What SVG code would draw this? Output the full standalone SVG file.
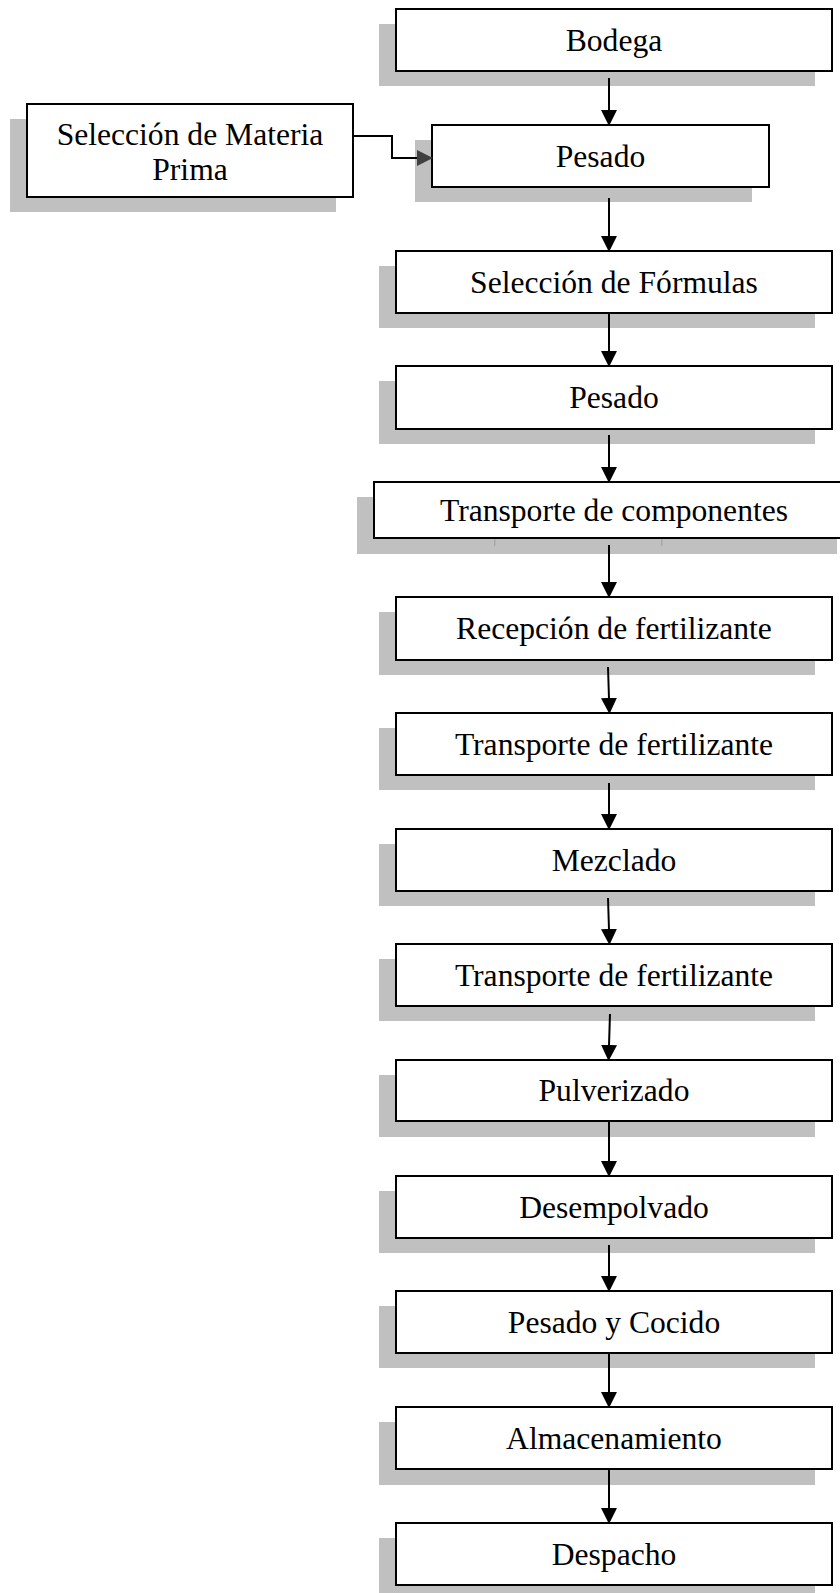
<svg xmlns="http://www.w3.org/2000/svg" width="840" height="1593" viewBox="0 0 840 1593">
<style>
.sh{fill:#c0c0c0}
.bx{fill:#ffffff;stroke:#000000;stroke-width:2}
.tx{font-family:"Liberation Serif","Times New Roman",serif;font-size:31.6px;text-anchor:middle;fill:#000000}
.ln{stroke:#000000;stroke-width:2;fill:none}
</style>
<defs>
<marker id="ah" markerUnits="userSpaceOnUse" markerWidth="16" markerHeight="16" viewBox="0 0 15 15" refX="1" refY="7.5" orient="auto">
<path d="M0,0 L15,7.5 L0,15 Z" fill="#000000"/>
</marker>
<marker id="ahg" markerUnits="userSpaceOnUse" markerWidth="16" markerHeight="16" viewBox="0 0 15 15" refX="1" refY="7.5" orient="auto">
<path d="M0,0 L15,7.5 L0,15 Z" fill="#404040"/>
</marker>
</defs>

<g id="n-bodega"><rect class="sh" x="379" y="24" width="436" height="62"/><rect class="bx" x="396" y="9" width="436" height="62"/><text class="tx" x="614" y="50.5">Bodega</text></g>
<g id="n-materia"><rect class="sh" x="10" y="119" width="326" height="93"/><rect class="bx" x="27" y="104" width="326" height="93"/><text class="tx" x="190" y="145">Selección de Materia</text><text class="tx" x="190" y="180">Prima</text></g>
<g id="n-pesado1"><rect class="sh" x="415" y="140" width="337" height="62"/><rect class="bx" x="432" y="125" width="337" height="62"/><text class="tx" x="600.5" y="166.5">Pesado</text></g>
<g id="n-formulas"><rect class="sh" x="379" y="266" width="436" height="62"/><rect class="bx" x="396" y="251" width="436" height="62"/><text class="tx" x="614" y="292.5">Selección de Fórmulas</text></g>
<g id="n-pesado2"><rect class="sh" x="379" y="381" width="436" height="63"/><rect class="bx" x="396" y="366" width="436" height="63"/><text class="tx" x="614" y="408">Pesado</text></g>
<g id="n-transcomp"><rect class="sh" x="357" y="497" width="480" height="57"/><rect x="494" y="538" width="1.5" height="8" fill="#a8a8a8"/><rect x="661" y="538" width="1.5" height="8" fill="#a8a8a8"/><rect class="bx" x="374" y="482" width="480" height="56"/><text class="tx" x="614" y="520.5">Transporte de componentes</text></g>
<g id="n-recepcion"><rect class="sh" x="379" y="612" width="436" height="63"/><rect class="bx" x="396" y="597" width="436" height="63"/><text class="tx" x="614" y="639">Recepción de fertilizante</text></g>
<g id="n-transfert1"><rect class="sh" x="379" y="728" width="436" height="62"/><rect class="bx" x="396" y="713" width="436" height="62"/><text class="tx" x="614" y="754.5">Transporte de fertilizante</text></g>
<g id="n-mezclado"><rect class="sh" x="379" y="844" width="436" height="62"/><rect class="bx" x="396" y="829" width="436" height="62"/><text class="tx" x="614" y="870.5">Mezclado</text></g>
<g id="n-transfert2"><rect class="sh" x="379" y="959" width="436" height="62"/><rect class="bx" x="396" y="944" width="436" height="62"/><text class="tx" x="614" y="985.5">Transporte de fertilizante</text></g>
<g id="n-pulverizado"><rect class="sh" x="379" y="1075" width="436" height="62"/><rect class="bx" x="396" y="1060" width="436" height="61"/><text class="tx" x="614" y="1101">Pulverizado</text></g>
<g id="n-desempolvado"><rect class="sh" x="379" y="1191" width="436" height="62"/><rect class="bx" x="396" y="1176" width="436" height="62"/><text class="tx" x="614" y="1217.5">Desempolvado</text></g>
<g id="n-pesadococido"><rect class="sh" x="379" y="1306" width="436" height="62"/><rect class="bx" x="396" y="1291" width="436" height="62"/><text class="tx" x="614" y="1332.5">Pesado y Cocido</text></g>
<g id="n-almacen"><rect class="sh" x="379" y="1422" width="436" height="63"/><rect class="bx" x="396" y="1407" width="436" height="62"/><text class="tx" x="614" y="1448.5">Almacenamiento</text></g>
<g id="n-despacho"><rect class="sh" x="379" y="1538" width="436" height="62"/><rect class="bx" x="396" y="1523" width="436" height="62"/><text class="tx" x="614" y="1564.5">Despacho</text></g>

<g id="connectors">
<polyline class="ln" points="353,136 392,136 392,158 418,158" marker-end="url(#ahg)"/>
<line class="ln" x1="609" y1="78" x2="609" y2="111" marker-end="url(#ah)"/>
<line class="ln" x1="609" y1="198" x2="609" y2="237" marker-end="url(#ah)"/>
<line class="ln" x1="609" y1="313" x2="609" y2="352" marker-end="url(#ah)"/>
<line class="ln" x1="609" y1="435" x2="609" y2="468" marker-end="url(#ah)"/>
<line class="ln" x1="609" y1="545" x2="609" y2="583" marker-end="url(#ah)"/>
<line class="ln" x1="608" y1="667" x2="609" y2="699" marker-end="url(#ah)"/>
<line class="ln" x1="609" y1="783" x2="609" y2="815" marker-end="url(#ah)"/>
<line class="ln" x1="608" y1="898" x2="609" y2="930" marker-end="url(#ah)"/>
<line class="ln" x1="610" y1="1014" x2="609" y2="1046" marker-end="url(#ah)"/>
<line class="ln" x1="609" y1="1121" x2="609" y2="1162" marker-end="url(#ah)"/>
<line class="ln" x1="609" y1="1245" x2="609" y2="1277" marker-end="url(#ah)"/>
<line class="ln" x1="609" y1="1353" x2="609" y2="1393" marker-end="url(#ah)"/>
<line class="ln" x1="609" y1="1469" x2="609" y2="1509" marker-end="url(#ah)"/>
</g>
</svg>
